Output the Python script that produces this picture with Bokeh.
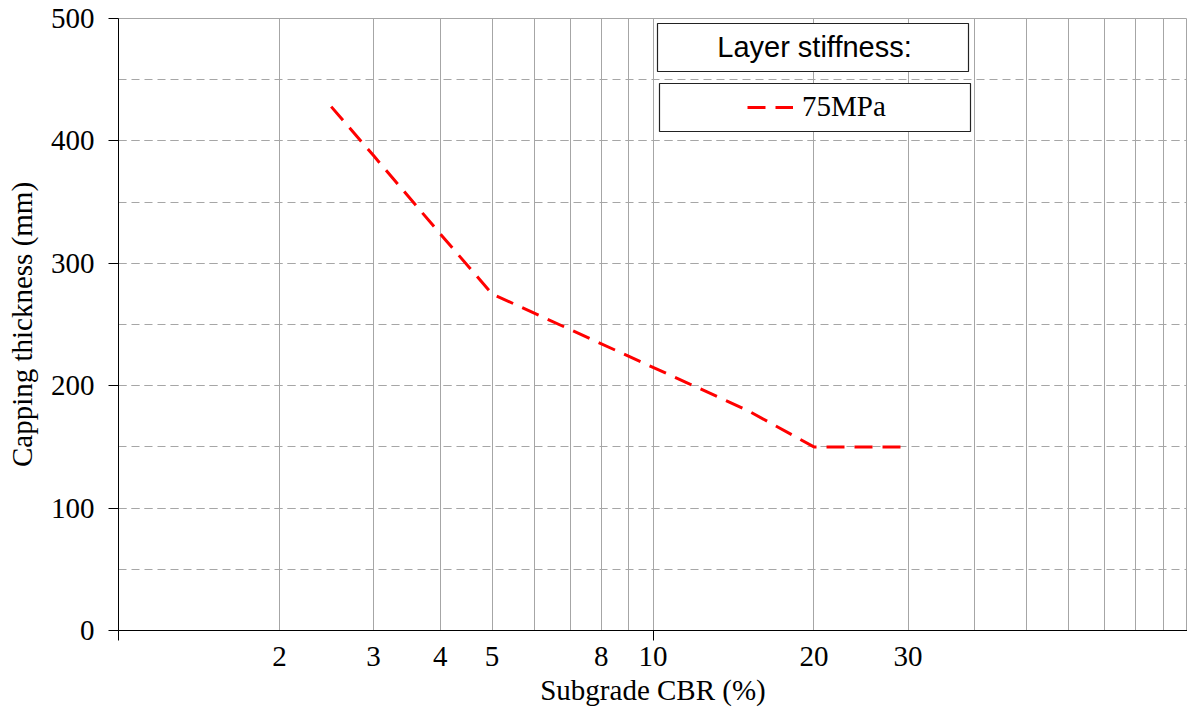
from bokeh.plotting import figure
from bokeh.models import (Range1d, FixedTicker, SingleIntervalTicker, Legend, LegendItem,
                          Label, BoxAnnotation)
from bokeh.embed import file_html
from bokeh.resources import INLINE

# ---- data ----
cbr = [2.5, 3, 4, 5, 10, 15, 20, 30]
thickness = [428, 388, 324, 275, 215, 180, 150, 150]
series_name = "75MPa"
legend_title = "Layer stiffness:"
x_label_ticks = [2, 3, 4, 5, 8, 10, 20, 30]
x_grid_ticks = [2, 3, 4, 5, 6, 7, 8, 9, 10, 20, 30, 40, 50, 60, 70, 80, 90]
x_decades = [1, 10, 100]
y_min, y_max = 0, 500

SERIF = "Liberation Serif"
SANS = "Liberation Sans"
FS = "29px"
GRID = "#a6a6a6"

p = figure(width=1187, height=710, x_axis_type="log",
           x_range=Range1d(1, 100), y_range=Range1d(y_min, y_max),
           output_backend="svg", toolbar_location=None)
p.min_border_left = 118
p.min_border_right = 0
p.min_border_top = 18
p.min_border_bottom = 80
p.outline_line_color = GRID
p.background_fill_color = "white"
p.border_fill_color = "white"

r = p.line(cbr, thickness, line_color="#ff0000", line_width=3, line_dash="18 10")

# x axis
xa = p.xaxis[0]
xa.ticker = FixedTicker(ticks=x_label_ticks, minor_ticks=x_decades)
xa.major_label_overrides = {t: str(t) for t in x_label_ticks}
xa.major_tick_line_color = None
xa.major_tick_out = 0
xa.major_tick_in = 0
xa.minor_tick_line_color = "black"
xa.minor_tick_out = 10
xa.minor_tick_in = 0
xa.axis_line_color = "black"
xa.major_label_text_font = SERIF
xa.major_label_text_font_size = FS
xa.major_label_text_color = "black"
xa.major_label_standoff = 6
xa.axis_label = "Subgrade CBR (%)"
xa.axis_label_text_font = SERIF
xa.axis_label_text_font_size = FS
xa.axis_label_text_font_style = "normal"
xa.axis_label_text_color = "black"
xa.axis_label_standoff = 5

# y axis
ya = p.yaxis[0]
ya.ticker = SingleIntervalTicker(interval=100, num_minor_ticks=2)
ya.major_tick_out = 10
ya.major_tick_in = 0
ya.major_tick_line_color = "black"
ya.minor_tick_line_color = None
ya.axis_line_color = "black"
ya.major_label_text_font = SERIF
ya.major_label_text_font_size = FS
ya.major_label_text_color = "black"
ya.major_label_standoff = 14
ya.axis_label = "Capping thickness (mm)"
ya.axis_label_text_font = SERIF
ya.axis_label_text_font_size = FS
ya.axis_label_text_font_style = "normal"
ya.axis_label_text_color = "black"
ya.axis_label_standoff = 10

# grids
p.xgrid.ticker = FixedTicker(ticks=x_grid_ticks)
p.xgrid.grid_line_color = GRID
p.xgrid.grid_line_width = 1
p.ygrid.grid_line_color = GRID
p.ygrid.grid_line_dash = "8 5"
p.ygrid.minor_grid_line_color = GRID
p.ygrid.minor_grid_line_dash = "8 5"

# legend: two boxes
box_title = BoxAnnotation(left=539, right=850, top=607, bottom=559,
                          left_units="screen", right_units="screen",
                          top_units="screen", bottom_units="screen",
                          fill_color="white", fill_alpha=1.0,
                          line_color="#222222", line_width=1.2, line_alpha=1.0)
box_item = BoxAnnotation(left=541, right=852, top=547, bottom=499,
                         left_units="screen", right_units="screen",
                         top_units="screen", bottom_units="screen",
                         fill_color="white", fill_alpha=1.0,
                         line_color="#222222", line_width=1.2, line_alpha=1.0)
p.add_layout(box_title)
p.add_layout(box_item)

title_lbl = Label(x=696, y=584, x_units="screen", y_units="screen",
                  text=legend_title, text_font=SANS, text_font_size=FS,
                  text_align="center", text_baseline="middle", text_color="black")
p.add_layout(title_lbl)

legend = Legend(items=[LegendItem(label=series_name, renderers=[r])],
                location=(629, 507), padding=0, margin=0,
                border_line_color=None, background_fill_alpha=0.0,
                glyph_width=46, glyph_height=30, label_height=30,
                label_standoff=9, label_text_font=SERIF, label_text_font_size=FS,
                label_text_baseline="middle", label_text_color="black")
p.add_layout(legend, "center")

open("out.html", "w").write(file_html(p, INLINE))
